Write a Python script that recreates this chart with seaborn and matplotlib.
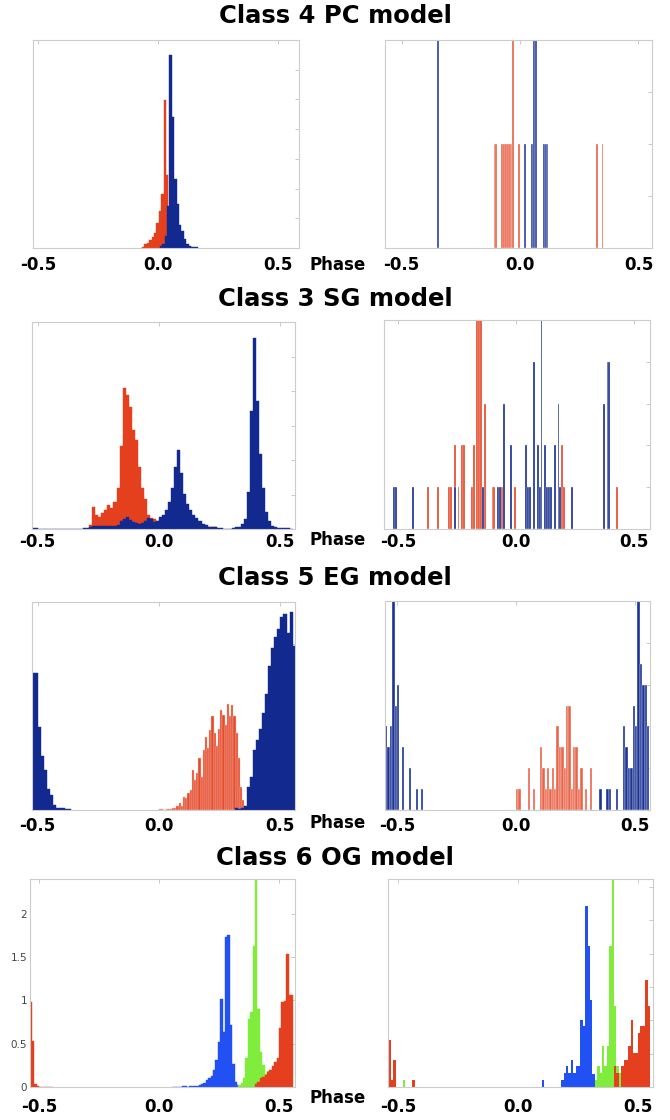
import numpy as np
import matplotlib
matplotlib.use("Agg")
import matplotlib.pyplot as plt
import seaborn as sns

sns.set_theme(style="white")
plt.rcParams['font.family'] = ['DejaVu Sans']
plt.rcParams['text.color'] = 'black'
plt.rcParams['xtick.labelcolor'] = 'black'

# ---------------- DATA ----------------
titles = ["Class 4 PC model", "Class 3 SG model", "Class 5 EG model", "Class 6 OG model"]
phase_ticks = [-0.5, 0.0, 0.5]
phase_ticklabels = ["-0.5", "0.0", "0.5"]
og_yticklabels = ["0", "0.5", "1", "1.5", "2"]

# Panel 1 (Class 4, model) - contiguous bins
p1_red_start, p1_red_w = -0.066, 0.01
p1_red = [0.006, 0.02, 0.026, 0.04, 0.055, 0.074, 0.12, 0.18, 0.26, 0.71, 0.35, 0.05]
p1_blue_start, p1_blue_w = 0.008, 0.01
p1_blue = [0.01, 0.02, 0.06, 0.2, 0.93, 0.63, 0.33, 0.21, 0.11, 0.08, 0.045, 0.02, 0.01, 0.005, 0.004, 0.003]

# Panel 2 (Class 4, observed) - sparse counts at bin centres
p2_red_x = [-0.108, -0.1, -0.076, -0.068, -0.06, -0.052, -0.044, -0.036, -0.028, -0.004, 0.324, 0.348]
p2_red_n = [1, 1, 1, 1, 1, 1, 1, 1, 2, 1, 1, 1]
p2_blue_x = [-0.348, 0.02, 0.052, 0.06, 0.068, 0.1, 0.108, 0.116]
p2_blue_n = [2, 1, 1, 2, 2, 1, 1, 1]

# Panel 3 (Class 3, model)
p3_red_start, p3_red_w = -0.2875, 0.0125
p3_red = [0.02, 0.104, 0.07, 0.058, 0.077, 0.093, 0.117, 0.10, 0.13, 0.2, 0.4, 0.68,
          0.647, 0.59, 0.478, 0.43, 0.3, 0.2, 0.144, 0.07, 0.055, 0.05, 0.04, 0.035,
          0.03, 0.03, 0.025, 0.025, 0.02, 0.02, 0.02, 0.018, 0.018, 0.015, 0.015, 0.015,
          0.012, 0.012, 0.012, 0.012, 0.01, 0.01]
p3_blue_start, p3_blue_w = -0.525, 0.0125
p3_blue = [0.005, 0.005, 0.002, 0, 0, 0, 0, 0, 0, 0, 0, 0, 0, 0, 0, 0.002, 0.002, 0.003,
           0.005, 0.01, 0.013, 0.013, 0.015, 0.013, 0.015, 0.015, 0.013, 0.015, 0.02,
           0.037, 0.05, 0.058, 0.045, 0.035, 0.03, 0.025, 0.03, 0.04, 0.055, 0.05, 0.035,
           0.04, 0.06, 0.07, 0.09, 0.13, 0.2, 0.3, 0.38, 0.27, 0.17, 0.12, 0.09, 0.07,
           0.055, 0.04, 0.025, 0.018, 0.012, 0.01, 0.008, 0.005, 0.003, 0.002, 0.002,
           0.002, 0.004, 0.008, 0.012, 0.025, 0.05, 0.18, 0.57, 0.925, 0.62, 0.36, 0.2,
           0.08, 0.04, 0.015, 0.008, 0.006, 0.005, 0.004, 0.003, 0.002]

# Panel 4 (Class 3, observed)
p4_red_x = [-0.372, -0.332, -0.284, -0.276, -0.26, -0.244, -0.228, -0.22, -0.188, -0.18,
            -0.164, -0.156, -0.148, -0.132, -0.1, -0.092, -0.06, -0.004, 0.196, 0.204, 0.428]
p4_red_n = [1, 1, 1, 1, 2, 1, 2, 2, 1, 2, 5, 5, 5, 3, 1, 1, 1, 1, 2, 1, 1]
p4_blue_x = [-0.516, -0.508, -0.436, -0.26, -0.14, -0.076, -0.068, -0.052, -0.02, 0.044,
             0.052, 0.06, 0.076, 0.092, 0.1, 0.108, 0.124, 0.132, 0.14, 0.148, 0.164,
             0.18, 0.188, 0.236, 0.372, 0.388, 0.396]
p4_blue_n = [1, 1, 1, 1, 1, 1, 1, 3, 2, 2, 1, 1, 4, 2, 1, 5, 2, 1, 1, 1, 2, 3, 1, 1, 3, 4, 4]

# Panel 5 (Class 5, model)
p5_blueL_start, p5_blueL_w = -0.525, 0.0125
p5_blueL = [0.66, 0.66, 0.4, 0.26, 0.19, 0.1, 0.07, 0.025, 0.01, 0.008, 0.01, 0.005, 0.003]
p5_blueR_start, p5_blueR_w = 0.3125, 0.0125
p5_blueR = [0.008, 0.004, 0.01, 0.02, 0.11, 0.16, 0.29, 0.336, 0.39, 0.464, 0.56, 0.69,
            0.78, 0.83, 0.87, 0.93, 0.94, 0.85, 0.95, 0.79]
p5_red_start, p5_red_w = 0.0, 0.009
p5_red = [0.003, 0.003, 0.0, 0.003, 0.005, 0.006, 0.01, 0.008, 0.02, 0.032, 0.02, 0.064,
          0.056, 0.08, 0.096, 0.19, 0.144, 0.176, 0.248, 0.16, 0.29, 0.35, 0.30, 0.385,
          0.45, 0.37, 0.31, 0.39, 0.48, 0.457, 0.41, 0.51, 0.45, 0.505, 0.45, 0.37,
          0.248, 0.11, 0.05, 0.016]

# Panel 6 (Class 5, observed)
p6_red_x = [0.005, 0.015, 0.055, 0.075, 0.105, 0.115, 0.125, 0.135, 0.145, 0.155, 0.165,
            0.175, 0.185, 0.195, 0.205, 0.215, 0.225, 0.235, 0.245, 0.255, 0.265, 0.275,
            0.295, 0.315]
p6_red_n = [1, 1, 2, 1, 3, 2, 1, 2, 1, 2, 1, 4, 3, 3, 2, 5, 5, 1, 3, 3, 1, 2, 1, 2]
p6_blue_x = [-0.545, -0.535, -0.525, -0.515, -0.505, -0.495, -0.475, -0.445, -0.415, -0.395,
             0.355, 0.385, 0.395, 0.425, 0.455, 0.465, 0.475, 0.485, 0.495, 0.505, 0.515,
             0.525, 0.535, 0.545, 0.555]
p6_blue_n = [4, 3, 4, 10, 5, 6, 3, 2, 1, 1, 1, 1, 1, 1, 4, 3, 2, 2, 5, 4, 10, 7, 6, 6, 4]

# Panel 7 (Class 6, model)
p7_redL_start, p7_w = -0.54, 0.01
p7_redL = [0.98, 0.535, 0.03, 0.01, 0.005, 0.004, 0.003, 0.003, 0.002, 0.002]
p7_blue_start = 0.055
p7_blue = [0.005, 0.005, 0.005, 0.005, 0.006, 0.006, 0.005, 0.006, 0.008, 0.01, 0.012,
           0.02, 0.03, 0.05, 0.08, 0.1, 0.13, 0.2, 0.31, 0.52, 1.02, 0.64, 1.73, 1.75,
           0.72, 0.27, 0.06, 0.02]
p7_green_start = 0.33
p7_green = [0.02, 0.05, 0.1, 0.33, 0.78, 0.87, 1.63, 2.6, 0.9, 0.4, 0.25, 0.15, 0.18, 0.08, 0.04]
p7_redR_start = 0.40
p7_redR = [0.03, 0.06, 0.1, 0.12, 0.14, 0.17, 0.2, 0.24, 0.29, 0.33, 0.68, 0.98, 0.99, 1.53, 1.06, 1.06]

# Panel 8 (Class 6, observed)
p8_red_x = [-0.535, -0.525, -0.515, -0.435, 0.405, 0.415, 0.435, 0.445, 0.455, 0.465, 0.475,
            0.485, 0.495, 0.505, 0.515, 0.525, 0.535, 0.545]
p8_red_n = [1.42, 0.22, 0.82, 0.22, 0.62, 0.42, 0.62, 0.82, 0.82, 1.22, 2.02, 1.02, 1.02,
            1.62, 1.82, 1.82, 3.22, 2.42]
p8_blue_x = [0.105, 0.185, 0.195, 0.205, 0.215, 0.225, 0.235, 0.245, 0.255, 0.265, 0.275,
             0.285, 0.295, 0.305, 0.315]
p8_blue_n = [0.22, 0.22, 0.42, 0.62, 0.42, 0.82, 0.42, 0.62, 0.62, 2.02, 1.82, 5.44, 4.22, 2.62, 0.4]
p8_green_x = [-0.475, 0.325, 0.335, 0.345, 0.355, 0.365, 0.375, 0.385, 0.395, 0.405, 0.415, 0.425]
p8_green_n = [0.22, 0.22, 0.62, 0.42, 1.22, 0.62, 1.22, 4.24, 6.3, 2.42, 0.62, 0.42]

# ---------------- STYLE ----------------
NAVY = "#12298F"
RED = "#E4401E"
BLUE6 = "#2251F3"
GREEN6 = "#80EC3C"
RED6 = "#E4401F"

W, H = 670, 1120
fig = plt.figure(figsize=(W / 100, H / 100), dpi=100)


def add_ax(x0, y0, x1, y1):
    return fig.add_axes([x0 / W, 1 - y1 / H, (x1 - x0) / W, (y1 - y0) / H])


def dense(ax, start, width, heights, color, alpha=1.0, edge=None, lw=0.3):
    h = np.asarray(heights, float)
    n = len(h)
    centers = start + width * (np.arange(n) + 0.5)
    sns.histplot(x=centers, weights=h, binwidth=width, binrange=(start, start + width * n),
                 color=color, alpha=alpha, edgecolor=edge if edge else color,
                 linewidth=lw, ax=ax)


def sparse(ax, xs, ns, width, color, alpha=1.0, edge=None, lw=0.0):
    sns.histplot(x=np.asarray(xs, float), weights=np.asarray(ns, float), binwidth=width,
                 binrange=(-0.6, 0.6), color=color, alpha=alpha,
                 edgecolor=edge if edge else 'none', linewidth=lw, ax=ax)
    # drop empty bins so they leave no baseline stroke
    for p in ax.patches:
        if p.get_height() == 0:
            p.set_visible(False)


def style(ax, xlim, ylim, yticks, pad, ylabels=None):
    ax.set_xlim(xlim)
    ax.set_ylim(ylim)
    ax.set_xticks(phase_ticks)
    ax.set_xticklabels(phase_ticklabels, fontsize=12, fontweight='bold', color='black')
    ax.set_yticks(yticks)
    if ylabels is None:
        ax.set_yticklabels([])
    else:
        ax.set_yticklabels(ylabels, fontsize=7.5, color='#444444')
    ax.tick_params(axis='both', direction='in', length=3, width=0.7, color='#C8C8C8',
                   top=True, right=True)
    ax.tick_params(axis='x', pad=pad)
    ax.tick_params(axis='y', pad=2)
    ax.set_xlabel('')
    ax.set_ylabel('')
    for s in ax.spines.values():
        s.set_color('#CCCCCC')
        s.set_linewidth(0.8)
        s.set_zorder(5)
    ax.set_facecolor('white')


# Row 1
ax1 = add_ax(33, 40, 299, 248)
dense(ax1, p1_red_start, p1_red_w, p1_red, RED)
dense(ax1, p1_blue_start, p1_blue_w, p1_blue, NAVY)
style(ax1, (-0.52, 0.5875), (0, 1.0), np.linspace(0, 1, 8)[1:-1], 6)

ax2 = add_ax(385, 40, 652, 248)
sparse(ax2, p2_red_x, p2_red_n, 0.008, RED, alpha=0.8, edge='white', lw=0.2)
sparse(ax2, p2_blue_x, p2_blue_n, 0.008, NAVY, alpha=0.85, edge='white', lw=0.2)
style(ax2, (-0.57, 0.557), (0, 2), [0.5, 1.0, 1.5], 6)

# Row 2
ax3 = add_ax(32, 322, 295, 529)
dense(ax3, p3_red_start, p3_red_w, p3_red, RED)
dense(ax3, p3_blue_start, p3_blue_w, p3_blue, NAVY)
style(ax3, (-0.523, 0.56), (0, 1.0), np.linspace(0, 1, 7)[1:-1], 3)

ax4 = add_ax(384, 320, 650, 529)
sparse(ax4, p4_red_x, p4_red_n, 0.008, RED, alpha=0.95, edge='white', lw=0.2)
sparse(ax4, p4_blue_x, p4_blue_n, 0.008, NAVY, alpha=0.95, edge='white', lw=0.2)
style(ax4, (-0.56, 0.568), (0, 5), [1, 2, 3, 4], 3)

# Row 3
ax5 = add_ax(32, 602, 295, 810)
dense(ax5, p5_red_start, p5_red_w, p5_red, RED, alpha=0.95, edge='#F6C8BC', lw=0.3)
dense(ax5, p5_blueL_start, p5_blueL_w, p5_blueL, NAVY)
dense(ax5, p5_blueR_start, p5_blueR_w, p5_blueR, NAVY)
style(ax5, (-0.523, 0.56), (0, 1.0), [0.2, 0.4, 0.6, 0.8], 5)

ax6 = add_ax(385, 601, 650, 810)
sparse(ax6, p6_red_x, p6_red_n, 0.01, RED, alpha=0.8, edge='white', lw=0.25)
sparse(ax6, p6_blue_x, p6_blue_n, 0.01, NAVY, alpha=0.95, edge='white', lw=0.25)
style(ax6, (-0.55, 0.563), (0, 10), [2, 4, 6, 8], 5)

# Row 4
ax7 = add_ax(30, 879, 295, 1087)
dense(ax7, p7_blue_start, p7_w, p7_blue, BLUE6)
dense(ax7, p7_green_start, p7_w, p7_green, GREEN6)
dense(ax7, p7_redL_start, p7_w, p7_redL, RED6)
dense(ax7, p7_redR_start, p7_w, p7_redR, RED6)
style(ax7, (-0.5375, 0.567), (0, 2.4), [0, 0.5, 1, 1.5, 2], 8, ylabels=og_yticklabels)

ax8 = add_ax(388, 879, 653, 1087)
sparse(ax8, p8_blue_x, p8_blue_n, 0.01, BLUE6)
sparse(ax8, p8_green_x, p8_green_n, 0.01, GREEN6)
sparse(ax8, p8_red_x, p8_red_n, 0.01, RED6)
style(ax8, (-0.542, 0.5625), (0, 6.24), [1, 2, 3, 4, 5, 6], 8)

# Titles and "Phase" labels
title_y = [16, 299, 578, 858]
phase_y = [265, 540, 823, 1098]
for t, ty, py in zip(titles, title_y, phase_y):
    fig.text(0.5, 1 - ty / H, t, ha='center', va='center', fontsize=17.5, fontweight='bold',
             color='black')
    fig.text(338 / W, 1 - py / H, "Phase", ha='center', va='center', fontsize=12,
             fontweight='bold', color='black')

fig.savefig("out.png", dpi=100, facecolor='white')
